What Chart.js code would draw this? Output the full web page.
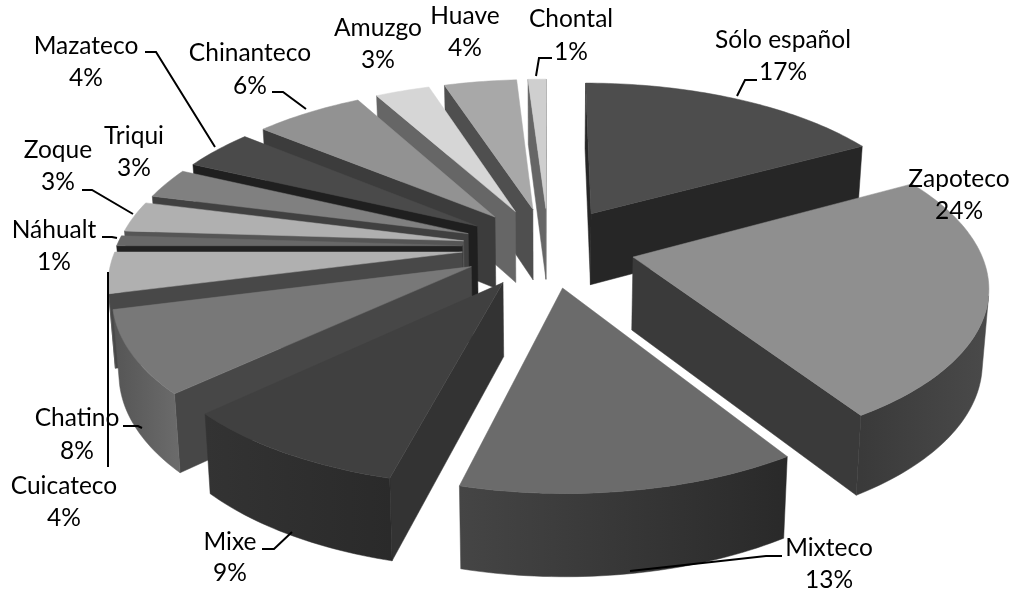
<!DOCTYPE html>
<html>
<head>
<meta charset="utf-8">
<title>Lenguas</title>
<style>
html,body{margin:0;padding:0;background:#fff}
#wrap{width:1016px;height:590px}
</style>
<script src="https://cdn.jsdelivr.net/npm/chart.js@4"></script>
</head>
<body>
<div id="wrap"><canvas id="chartPie" width="1016" height="590"></canvas></div>
<script>
var categories=["Sólo español","Zapoteco","Mixteco","Mixe","Chatino","Cuicateco","Náhualt","Zoque","Triqui","Mazateco","Chinanteco","Amuzgo","Huave","Chontal"];
var shares=[17,24,13,9,8,4,1,3,3,4,6,3,4,1];

// Greys per slice: top face, cut faces, outer wall (left and right end)
var topShades=["#4d4d4d","#8f8f8f","#6b6b6b","#404040","#787878","#b0b0b0","#686868","#b0b0b0","#808080","#4a4a4a","#929292","#d6d6d6","#a8a8a8","#cfcfcf"];
var sideShades=["#262626","#3a3a3a","#333333","#333333","#474747","#484848","#222222","#555555","#404040","#1f1f1f","#3c3c3c","#666666","#4f4f4f","#666666"];
var rimFrom=["#333333","#3a3a3a","#454545","#333333","#555555","#606060","#444444","#666666","#555555","#333333","#555555","#777777","#666666","#777777"];
var rimTo=["#262626","#4a4a4a","#292929","#2a2a2a","#6a6a6a","#555555","#333333","#555555","#444444","#222222","#444444","#666666","#555555","#666666"];

// Label centres, two lines each
var labelX=[783,959,829,230,77,64,54,58,134,86,250,378,465,571];
var labelY1=[40,179,548,542,418,486,230,150,136,46,53,28,16,19];
var labelY2=[72,211,580,573,451,518,262,182,168,78,86,60,48,52];

// Leader lines from label to slice
var leaders=[
  [[757,80],[745,80],[737,96]],
  null,
  [[782,556],[766,556],[630,571]],
  [[262,549],[274,549],[292,532]],
  [[123,426],[138,426],[142,428]],
  [[108,467],[108,272]],
  [[102,237],[112,237],[117,238]],
  [[82,190],[92,190],[133,214]],
  null,
  [[145,52],[156,52],[215,147]],
  [[272,92],[283,92],[306,109]],
  null,
  null,
  [[552,58],[539,58],[536,76]]
];

// Projection of the pie plane onto the page
var CX=548.5,CY=247,RX=346,RY=160,PERSP=0.153,DEPTH=72.5,NARROW=0.985;

function project(x,y,low){
  var s=1/(1-PERSP*y);
  return {
    x:CX+RX*x*s*(low?NARROW:1),
    y:CY+RY*y*s+(low?DEPTH*(1+0.63*(s-1)):0)
  };
}

function fillFace(ctx,pts,color){
  ctx.beginPath();
  ctx.moveTo(pts[0].x,pts[0].y);
  for(var i=1;i<pts.length;i++) ctx.lineTo(pts[i].x,pts[i].y);
  ctx.closePath();
  ctx.fillStyle=color;
  ctx.fill();
  ctx.strokeStyle=color;
  ctx.lineWidth=0.5;
  ctx.stroke();
}

function signedArea(pts){
  var a=0;
  for(var i=0;i<pts.length;i++){
    var p=pts[i],q=pts[(i+1)%pts.length];
    a+=p.x*q.y-q.x*p.y;
  }
  return a/2;
}

function drawSlice(ctx,arc,idx){
  var a=arc.startAngle,b=arc.endAngle,m=(a+b)/2;
  var k=arc.options.offset/arc.outerRadius;
  var ox=k*Math.cos(m),oy=k*Math.sin(m);
  function rim(t,low){return project(ox+Math.cos(t),oy+Math.sin(t),low)}
  var apexT=project(ox,oy,false),apexB=project(ox,oy,true);

  // cut faces, only the ones turned towards the viewer
  var f1=[apexT,rim(a,false),rim(a,true),apexB];
  if(signedArea(f1)<0) fillFace(ctx,f1,sideShades[idx]);
  var f2=[rim(b,false),apexT,apexB,rim(b,true)];
  if(signedArea(f2)<0) fillFace(ctx,f2,sideShades[idx]);

  // outer wall as one shape over the part facing the viewer
  var steps=Math.max(4,Math.ceil((b-a)/0.02));
  var upper=[],lower=[];
  for(var i=0;i<steps;i++){
    var t0=a+(b-a)*i/steps,t1=a+(b-a)*(i+1)/steps;
    var q=[rim(t1,false),rim(t0,false),rim(t0,true),rim(t1,true)];
    if(signedArea(q)>0){
      if(!upper.length){upper.push(rim(t0,false));lower.push(rim(t0,true))}
      upper.push(rim(t1,false));
      lower.push(rim(t1,true));
    }
  }
  if(upper.length){
    var xs=upper.map(function(p){return p.x});
    var grad=ctx.createLinearGradient(Math.min.apply(null,xs),0,Math.max.apply(null,xs)+1,0);
    grad.addColorStop(0,rimFrom[idx]);
    grad.addColorStop(1,rimTo[idx]);
    fillFace(ctx,upper.concat(lower.reverse()),grad);
  }

  // top face
  var top=[apexT];
  for(var j=0;j<=steps;j++) top.push(rim(a+(b-a)*j/steps,false));
  fillFace(ctx,top,arc.options.backgroundColor);
}

var pie3d={
  id:"pie3d",
  beforeDatasetsDraw:function(chart){
    var ctx=chart.ctx;
    var arcs=chart.getDatasetMeta(0).data;
    var order=arcs.map(function(e,i){return i});
    order.sort(function(p,q){
      var mp=(arcs[p].startAngle+arcs[p].endAngle)/2;
      var mq=(arcs[q].startAngle+arcs[q].endAngle)/2;
      return Math.sin(mp)-Math.sin(mq);
    });
    ctx.save();
    order.forEach(function(i){drawSlice(ctx,arcs[i],i)});
    ctx.restore();
    return false;
  },
  afterDraw:function(chart){
    var ctx=chart.ctx;
    ctx.save();
    ctx.strokeStyle="#000";
    ctx.lineWidth=2;
    ctx.lineJoin="miter";
    leaders.forEach(function(l){
      if(!l) return;
      ctx.beginPath();
      ctx.moveTo(l[0][0],l[0][1]);
      for(var i=1;i<l.length;i++) ctx.lineTo(l[i][0],l[i][1]);
      ctx.stroke();
    });
    ctx.fillStyle="#000";
    ctx.font="24.5px Lato";
    ctx.textAlign="center";
    ctx.textBaseline="middle";
    categories.forEach(function(c,i){
      ctx.fillText(c,labelX[i],labelY1[i]);
      ctx.fillText(shares[i]+"%",labelX[i],labelY2[i]);
    });
    ctx.restore();
  }
};

new Chart(document.getElementById("chartPie").getContext("2d"),{
  type:"pie",
  data:{labels:categories,datasets:[{data:shares,backgroundColor:topShades,offset:65.5,borderWidth:0}]},
  options:{responsive:false,animation:false,events:[],plugins:{legend:{display:false},tooltip:{enabled:false}}},
  plugins:[pie3d]
});
</script>
</body>
</html>
